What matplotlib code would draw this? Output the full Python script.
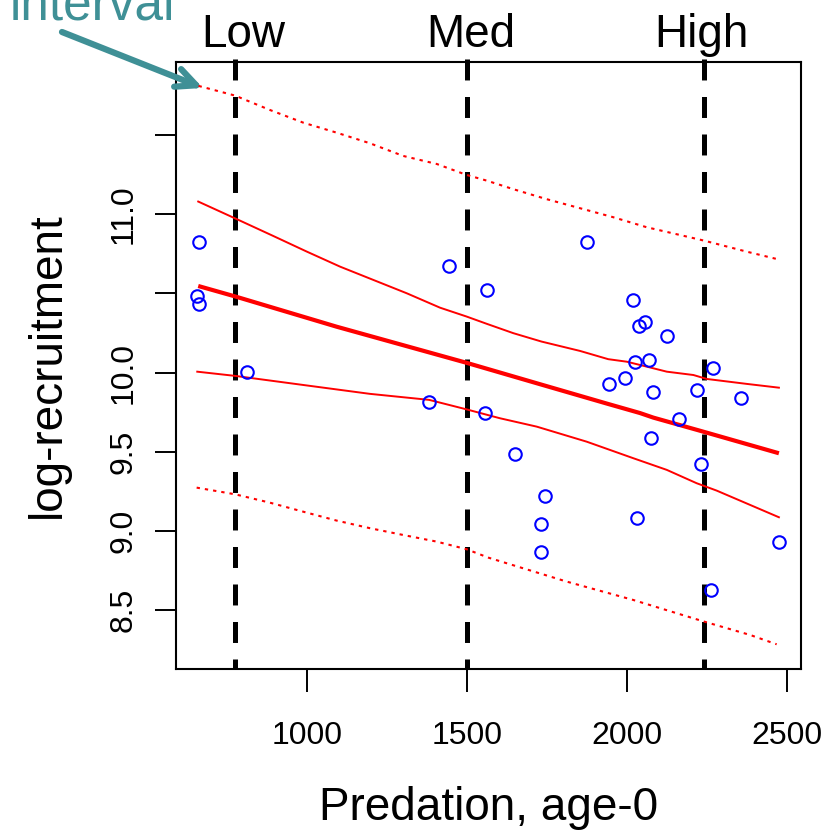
import matplotlib
matplotlib.use("Agg")
import matplotlib.pyplot as plt

plt.rcParams['font.family'] = ['Liberation Sans', 'DejaVu Sans']
plt.rcParams['lines.scale_dashes'] = False

# ---- observed data ----
pred_x = [663, 658, 664, 814, 1444, 1563, 1382, 1556, 1875, 2018, 2038, 2055,
          2125, 2025, 2069, 1994, 1944, 2081, 2218, 2269, 2357, 2162, 2075,
          1651, 2231, 1744, 1732, 1732, 2031, 2474, 2263]
rec_y = [10.827, 10.486, 10.434, 10.006, 10.676, 10.524, 9.817, 9.742, 10.827,
         10.459, 10.295, 10.322, 10.234, 10.069, 10.082, 9.968, 9.931, 9.880,
         9.893, 10.032, 9.842, 9.705, 9.590, 9.489, 9.426, 9.223, 9.047, 8.870,
         9.085, 8.933, 8.630]

# ---- fitted line ----
fit_x = [661, 778, 1093, 1497, 1728, 1936, 2040, 2082, 2228, 2474]
fit_y = [10.547, 10.480, 10.290, 10.063, 9.927, 9.805, 9.745, 9.716, 9.633, 9.491]

# ---- confidence band ----
ciu_x = [661, 791, 895, 1000, 1104, 1208, 1312, 1416, 1499, 1562, 1645, 1733,
         1853, 1941, 1999, 2061, 2124, 2207, 2249, 2373, 2474]
ciu_y = [11.080, 10.960, 10.863, 10.764, 10.669, 10.585, 10.501, 10.410, 10.354,
         10.308, 10.249, 10.196, 10.137, 10.085, 10.069, 10.038, 10.006, 9.985,
         9.960, 9.929, 9.905]
cil_x = [658, 778, 989, 1197, 1382, 1497, 1603, 1718, 1874, 2019, 2124, 2217,
         2280, 2474]
cil_y = [10.006, 9.979, 9.922, 9.866, 9.828, 9.769, 9.712, 9.659, 9.564, 9.460,
         9.386, 9.302, 9.255, 9.087]

# ---- prediction interval ----
piu_x = [662, 776, 885, 989, 1093, 1197, 1301, 1406, 1499, 1562, 1645, 1749,
         1853, 1957, 2061, 2165, 2241, 2373, 2470]
piu_y = [11.810, 11.749, 11.658, 11.578, 11.515, 11.448, 11.368, 11.317, 11.248,
         11.212, 11.158, 11.095, 11.038, 10.981, 10.918, 10.869, 10.833, 10.764,
         10.716]
pil_x = [656, 776, 885, 989, 1093, 1197, 1301, 1406, 1499, 1567, 1811, 2019,
         2241, 2384, 2467]
pil_y = [9.274, 9.232, 9.179, 9.122, 9.066, 9.018, 8.975, 8.933, 8.885, 8.832,
         8.681, 8.565, 8.428, 8.344, 8.285]

# ---- predation levels ----
level_x = [777, 1500, 2241]
level_label_x = [802, 1513, 2231]
level_labels = ["Low", "Med", "High"]

x_ticks = [1000, 1500, 2000, 2500]
y_ticks = [8.5, 9.0, 9.5, 10.0, 10.5, 11.0, 11.5]
y_tick_labels = ["8.5", "9.0", "9.5", "10.0", "", "11.0", ""]

W = H = 836
AX_TOP, AX_BOT = 62, 669
fig = plt.figure(figsize=(8.36, 8.36), dpi=100)
ax = fig.add_axes([176 / W, (H - AX_BOT) / H, (801 - 176) / W, (AX_BOT - AX_TOP) / H])
ax.set_xlim(591.6, 2543)
ax.set_ylim(8.129, 11.961)

teal = '#3F9096'

ax.plot(pred_x, rec_y, linestyle='none', marker='o', markersize=9,
        markerfacecolor='none', markeredgecolor='#0000FF', markeredgewidth=1.5,
        zorder=5)
ax.plot(fit_x, fit_y, color='#FF0000', lw=3.0, solid_capstyle='butt', zorder=4)
ax.plot(ciu_x, ciu_y, color='#FF0000', lw=1.4, zorder=4)
ax.plot(cil_x, cil_y, color='#FF0000', lw=1.4, zorder=4)
ax.plot(piu_x, piu_y, color='#FF0000', lw=1.5, dashes=(2.4, 3.6),
        dash_capstyle='butt', zorder=4)
ax.plot(pil_x, pil_y, color='#FF0000', lw=1.5, dashes=(2.4, 3.6),
        dash_capstyle='butt', zorder=4)

ylo, yhi = ax.get_ylim()
for lx in level_x:
    ax.plot([lx, lx], [yhi + 0.02, ylo], color='black', lw=3.6,
            dashes=(15.1, 11.9), dash_capstyle='butt', clip_on=False, zorder=3)

label_y_axes = 1 + (AX_TOP - 46.7) / (AX_BOT - AX_TOP)
for lx, lab in zip(level_label_x, level_labels):
    ax.text(lx, label_y_axes, lab, transform=ax.get_xaxis_transform(),
            ha='center', va='baseline', fontsize=33, clip_on=False)

ax.set_xticks(x_ticks)
ax.set_xticklabels([str(v) for v in x_ticks])
ax.set_yticks(y_ticks)
ax.set_yticklabels(y_tick_labels, rotation=90, va='center')
ax.tick_params(axis='x', direction='out', length=16.5, width=1.4, pad=21,
               labelsize=23)
ax.tick_params(axis='y', direction='out', length=15, width=1.4, pad=12,
               labelsize=23)
for s in ax.spines.values():
    s.set_linewidth(1.5)

fig.text(488.5 / W, 1 - 820 / H, "Predation, age-0", ha='center', va='baseline',
         fontsize=33)
fig.text(60 / W, 1 - 365 / H, "log-recruitment", rotation=90,
         rotation_mode='anchor', ha='center', va='baseline', fontsize=33)

fig.text(10 / W, 1 - 19 / H, "interval", ha='left', va='baseline', fontsize=37,
         color=teal)
ax.annotate("", xy=(676, 11.797), xycoords='data',
            xytext=(62 / W, 1 - 32 / H), textcoords='figure fraction',
            arrowprops=dict(arrowstyle='->,head_length=14.4,head_width=6.8',
                            mutation_scale=1, lw=4.5, color=teal,
                            shrinkA=0, shrinkB=0, capstyle='round',
                            joinstyle='round'),
            annotation_clip=False)

fig.savefig("out.png", dpi=100)
